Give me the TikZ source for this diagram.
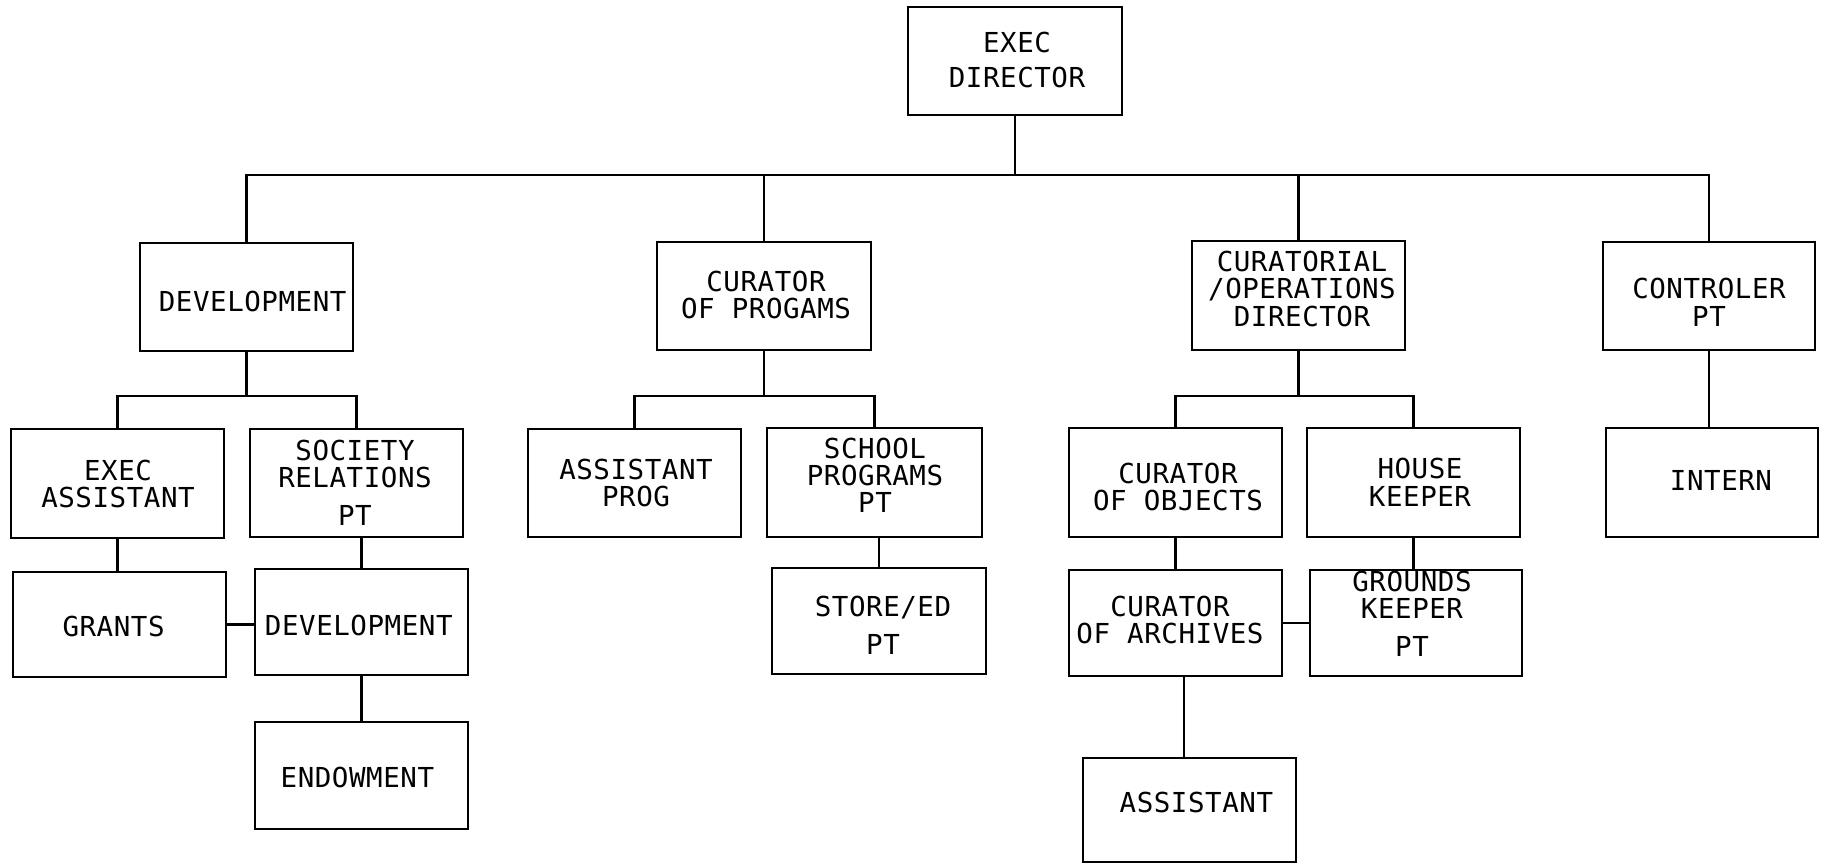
\documentclass[tikz,border=0pt]{standalone}
\usepackage{fontspec}
\newfontfamily\chartfont[LetterSpace=2]{DejaVu Sans Mono}
\newcommand\orgbox[5]{\node[box, minimum width={(#4)-(#2)}, minimum height={(#5)-(#3)}] (#1) at ({((#2)+(#4))/2},{((#3)+(#5))/2}) {};}
\begin{document}
\begin{tikzpicture}[x=1pt,y=-1pt,
  box/.style={draw, line width=2.4pt, inner sep=0pt, outer sep=0pt, rectangle},
  conn/.style={draw, line width=2.4pt},
  txt/.style={font=\chartfont\fontsize{27.5}{27.3}\selectfont, align=center, anchor=base, inner sep=0pt}]
\useasboundingbox (0,0) rectangle (1823,863);
% boxes
\orgbox{ed}{908}{7}{1122}{115}
\orgbox{dev}{140}{243}{353}{351}
\orgbox{cop}{657}{242}{871}{350}
\orgbox{cur}{1192}{241}{1405}{350}
\orgbox{ctl}{1603}{242}{1815}{350}
\orgbox{ea}{11}{429}{224}{538}
\orgbox{sr}{250}{429}{463}{537}
\orgbox{gr}{13}{572}{226}{677}
\orgbox{dv2}{255}{569}{468}{675}
\orgbox{en}{255}{722}{468}{829}
\orgbox{ap}{528}{429}{741}{537}
\orgbox{sp}{767}{428}{982}{537}
\orgbox{se}{772}{568}{986}{674}
\orgbox{co}{1069}{428}{1282}{537}
\orgbox{ca}{1069}{570}{1282}{676}
\orgbox{as}{1083}{758}{1296}{862}
\orgbox{hk}{1307}{428}{1520}{537}
\orgbox{gk}{1310}{570}{1522}{676}
\orgbox{in}{1606}{428}{1818}{537}
% texts (anchored at the baseline of the last line)
\node[txt] (ed-t) at (1017,87.3) {EXEC\\[7.7pt]DIRECTOR};
\node[txt] (dev-t) at (252.7,311.7) {DEVELOPMENT};
\node[txt] (cop-t) at (766,318.3) {CURATOR\\OF PROGAMS};
\node[txt] (cur-t) at (1302,326) {CURATORIAL\\/OPERATIONS\\DIRECTOR};
\node[txt] (ctl-t) at (1709,326) {CONTROLER\\PT};
\node[txt] (ea-t) at (118,507.7) {EXEC\\ASSISTANT};
\node[txt] (sr-t) at (355,525) {SOCIETY\\RELATIONS\\[10.4pt]PT};
\node[txt] (gr-t) at (113.6,636) {GRANTS};
\node[txt] (dv2-t) at (358.8,635.3) {DEVELOPMENT};
\node[txt] (en-t) at (357.4,787.7) {ENDOWMENT};
\node[txt] (ap-t) at (636,506.7) {ASSISTANT\\PROG};
\node[txt] (sp-t) at (875,512.7) {SCHOOL\\PROGRAMS\\PT};
\node[txt] (se-t) at (883,654) {STORE/ED\\[10.7pt]PT};
\node[txt] (co-t) at (1178,510.7) {CURATOR\\OF OBJECTS};
\node[txt] (ca-t) at (1170,643.3) {CURATOR\\OF ARCHIVES};
\node[txt] (as-t) at (1196.4,812.3) {ASSISTANT};
\node[txt] (hk-t) at (1420,506) {HOUSE\\KEEPER};
\node[txt] (gk-t) at (1412,656) {GROUNDS\\KEEPER\\[10.4pt]PT};
\node[txt] (in-t) at (1721,490) {INTERN};
% main bus
\coordinate (bus) at (0,175);
\draw[conn] (ed.south) -- (ed.south |- bus);
\draw[conn] (dev.north) -- (dev.north |- bus) -- (ctl.north |- bus) -- (ctl.north);
\draw[conn] (cop.north) -- (cop.north |- bus);
\draw[conn] (cur.north) -- (cur.north |- bus);
% sub buses
\coordinate (sub) at (0,396);
\draw[conn] (dev.south) -- (dev.south |- sub);
\draw[conn] (ea.north) -- (ea.north |- sub) -- (sr.north |- sub) -- (sr.north);
\draw[conn] (cop.south) -- (cop.south |- sub);
\draw[conn] (ap.north) -- (ap.north |- sub) -- (sp.north |- sub) -- (sp.north);
\draw[conn] (cur.south) -- (cur.south |- sub);
\draw[conn] (co.north) -- (co.north |- sub) -- (hk.north |- sub) -- (hk.north);
\draw[conn] (ctl.south) -- (ctl.south |- in.north);
% lower links
\draw[conn] (ea.south) -- (ea.south |- gr.north);
\draw[conn] (dv2.north |- sr.south) -- (dv2.north);
\draw[conn] (dv2.south) -- (en.north);
\draw[conn] (gr.east) -- (gr.east -| dv2.west);
\draw[conn] (se.north |- sp.south) -- (se.north);
\draw[conn] (co.south) -- (co.south |- ca.north);
\draw[conn] ([xshift=8.5pt]ca.south) -- ([xshift=8.5pt]ca.south |- as.north);
\draw[conn] (hk.south) -- (hk.south |- gk.north);
\draw[conn] (ca.east) -- (ca.east -| gk.west);
\end{tikzpicture}
\end{document}
